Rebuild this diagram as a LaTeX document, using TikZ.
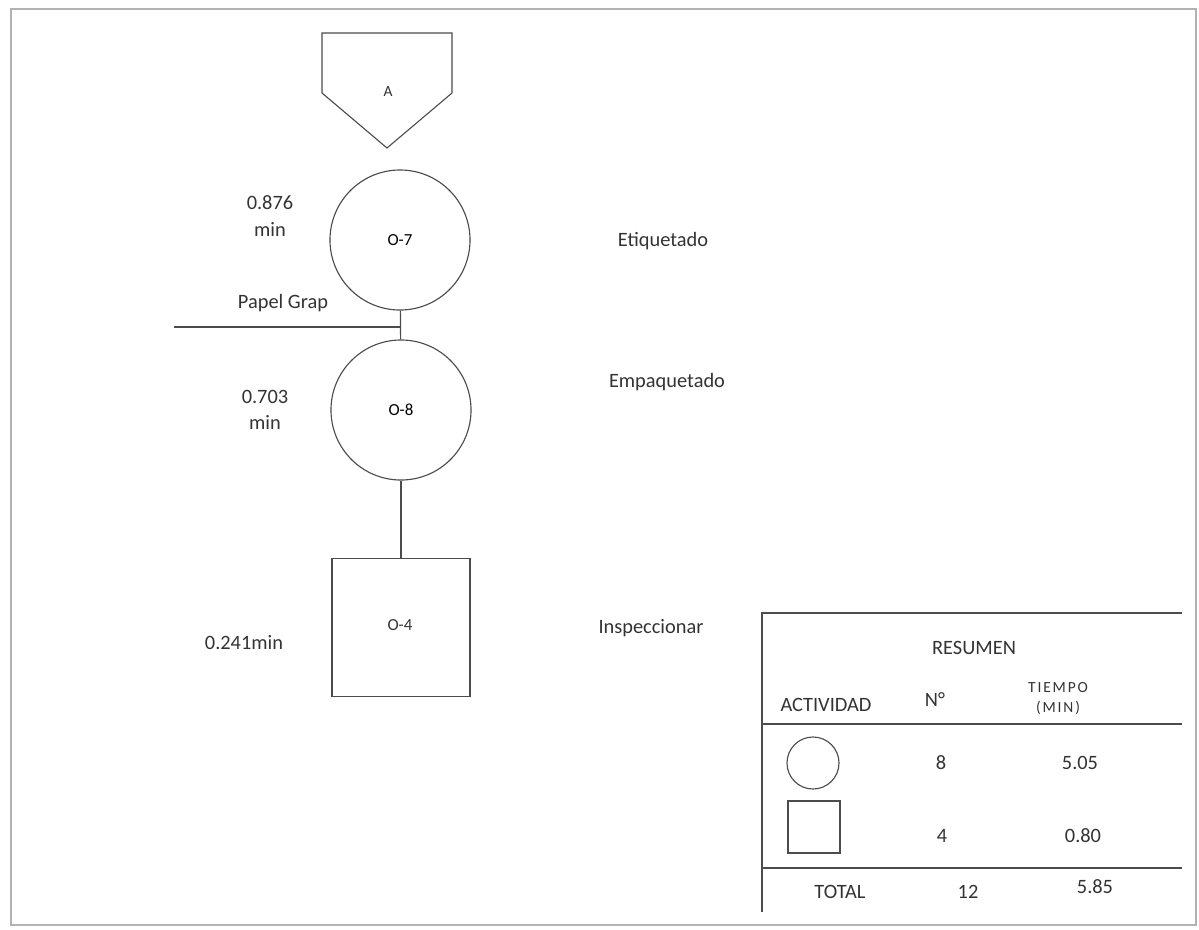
\documentclass[tikz,border=0pt]{standalone}
\usepackage{fontspec}
\setmainfont{Carlito}
\begin{document}
\begin{tikzpicture}[x=0.025cm, y=-0.025cm,
    line/.style={draw=black!70, line width=0.8pt},
    oper/.style={line, circle, minimum size=3.5cm, inner sep=0pt, font=\fontsize{12}{14}\selectfont},
    insp/.style={line, rectangle, minimum size=3.45cm, inner sep=0pt},
    txt/.style={text=black!80, inner sep=0pt, align=center, font=\fontsize{14.5}{19}\selectfont},
    small/.style={text=black!80, inner sep=0pt, align=center, font=\fontsize{11}{12}\selectfont\addfontfeature{LetterSpace=12}}
  ]
  \useasboundingbox (0,0) rectangle (1199,929);
  \draw[black!30, line width=1.2pt] (11,9) rectangle (1196,925);

  % storage mark on top
  \draw[line] (322,33) -- (452,33) -- (452,93) -- (387,148) -- (322,93) -- cycle;
  \node[text=black!80, font=\fontsize{11}{12}\selectfont] (a) at (388,92) {A};

  % flow
  \node[oper] (o7) at (400,240) {O-7};
  \node[oper] (o8) at (401,410) {O-8};
  \node[insp] (o4) at (401,627.5) {};
  \node[text=black!80, font=\fontsize{12}{14}\selectfont] (o4t) at (400,625) {O-4};
  \draw[line] (o7) -- (o8);
  \draw[line] (o8) -- (o4);
  \coordinate (papel) at (174,327);
  \draw[line] (papel) -- (papel -| o7.south);

  % times and names
  \node[txt] (t7) at (270,216) {0.876\\min};
  \node[txt] (t8) at (265,410) {0.703\\min};
  \node[txt] (t4) at (244,643) {0.241min};
  \node[txt] (pg) at (283,303) {Papel Grap};
  \node[txt] (n7) at (663,241) {Etiquetado};
  \node[txt] (n8) at (667,382) {Empaquetado};
  \node[txt] (n4) at (651,628) {Inspeccionar};

  % summary table
  \draw[line] (1182,613) -- (762,613) -- (762,912);
  \draw[line] (762,724) -- (1182,724);
  \draw[line] (762,868) -- (1182,868);
  \node[txt] (res) at (974,648) {RESUMEN};
  \node[txt] (act) at (826,705) {ACTIVIDAD};
  \node[txt] (num) at (935,700) {N°};
  \node[small] (tie) at (1058,688) {TIEMPO};
  \node[small] (mn) at (1058,708) {(MIN)};
  \node[line, circle, minimum size=1.3cm, inner sep=0pt] (symop) at (813,763) {};
  \node[line, rectangle, minimum size=1.3cm, inner sep=0pt] (symin) at (814,827) {};
  \node[txt] (c1) at (941,763) {8};
  \node[txt] (v1) at (1080,763) {5.05};
  \node[txt] (c2) at (942,836) {4};
  \node[txt] (v2) at (1083,836) {0.80};
  \node[txt] (tot) at (840,892) {TOTAL};
  \node[txt] (ct) at (968,892) {12};
  \node[txt] (vt) at (1095,887) {5.85};
\end{tikzpicture}
\end{document}
